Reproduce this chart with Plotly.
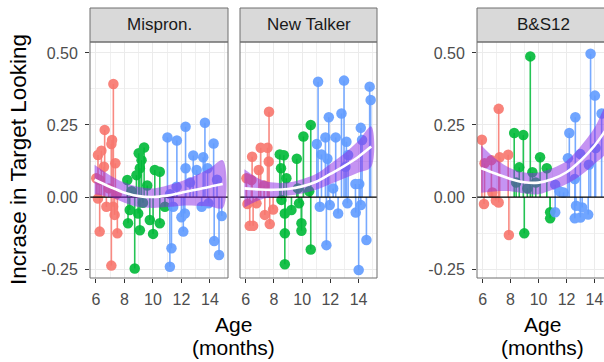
import plotly.graph_objects as go

W, H = 604, 362

panel_names = ["Mispron.", "New Talker", "B&S12"]
group_colors = ["#F8766D", "#00BA38", "#619CFF"]

# ---- Mispron. ----
mis_red_age = [7.22, 6.61, 7.13, 7.08, 6.38, 6.14, 7.36, 6.56, 6.02, 6.26, 6.14, 6.73, 7.20, 7.31, 6.26, 7.50, 7.08, 6.90, 7.45]
mis_red_val = [0.392, 0.233, 0.198, 0.184, 0.161, 0.146, 0.117, 0.105, 0.065, 0.059, -0.005, -0.034, -0.034, -0.062, -0.120, -0.126, -0.238, 0.030, 0.010]
mis_green_age = [9.38, 9.00, 9.20, 9.08, 8.84, 10.13, 10.48, 8.20, 8.50, 9.60, 8.37, 8.96, 8.25, 9.78, 10.48, 9.08, 10.01, 8.72, 10.84, 9.30]
mis_green_val = [0.172, 0.152, 0.128, 0.100, 0.076, 0.094, 0.088, 0.059, 0.020, 0.040, -0.045, -0.057, -0.091, -0.080, -0.091, -0.115, -0.128, -0.248, -0.034, -0.020]
mis_blue_age = [11.02, 11.68, 12.29, 13.65, 14.26, 12.83, 13.53, 12.29, 13.07, 13.84, 11.66, 11.20, 11.42, 12.24, 12.00, 13.42, 13.90, 14.83, 12.13, 11.30, 14.30, 14.64, 11.19, 12.60, 14.50]
mis_blue_val = [0.207, 0.196, 0.244, 0.258, 0.186, 0.144, 0.138, 0.100, 0.094, 0.100, 0.036, 0.010, -0.034, -0.057, -0.070, -0.034, -0.022, -0.066, -0.120, -0.178, -0.153, -0.201, -0.242, 0.050, 0.060]

# ---- New Talker ----
nt_red_age = [7.65, 6.45, 7.06, 7.54, 6.92, 7.63, 6.05, 6.40, 6.12, 6.76, 7.35, 7.94, 6.28, 6.52, 7.70, 7.30]
nt_red_val = [0.296, 0.140, 0.171, 0.171, 0.094, 0.123, 0.065, 0.059, -0.024, -0.022, -0.062, -0.043, -0.100, -0.100, -0.094, 0.040]
nt_green_age = [10.61, 10.09, 8.41, 8.70, 9.62, 8.88, 8.50, 8.53, 8.77, 9.24, 9.78, 9.95, 9.95, 8.77, 10.61, 8.77, 10.50, 9.70]
nt_green_val = [0.250, 0.210, 0.148, 0.145, 0.133, 0.065, 0.100, -0.010, -0.057, -0.045, -0.022, -0.091, -0.117, -0.126, -0.182, -0.233, 0.020, 0.030]
nt_blue_age = [11.13, 12.97, 14.79, 14.86, 12.79, 11.89, 11.65, 12.38, 11.04, 13.14, 14.16, 14.25, 11.37, 11.79, 13.26, 13.07, 13.78, 14.05, 11.25, 11.96, 12.55, 13.21, 13.80, 14.16, 11.72, 14.56, 14.01, 12.20]
nt_blue_val = [0.400, 0.404, 0.383, 0.337, 0.290, 0.277, 0.207, 0.207, 0.184, 0.192, 0.240, 0.198, 0.148, 0.133, 0.146, 0.105, 0.045, 0.045, -0.034, -0.028, -0.057, -0.022, -0.054, -0.028, -0.167, -0.149, -0.253, 0.030]

# ---- B&S12 ----
bs_red_age = [5.95, 7.15, 7.83, 7.22, 6.63, 6.14, 6.70, 6.10, 7.15, 6.95, 7.88]
bs_red_val = [0.199, 0.306, 0.147, 0.138, 0.128, 0.117, 0.016, -0.024, -0.019, -0.012, -0.132]
bs_green_age = [9.41, 8.26, 8.91, 10.11, 8.62, 10.59, 9.56, 9.20, 9.80, 10.83, 10.83, 8.98, 8.40]
bs_green_val = [0.488, 0.222, 0.215, 0.138, 0.103, 0.100, 0.086, 0.030, 0.050, -0.053, -0.074, -0.126, 0.050]
bs_blue_age = [13.72, 14.03, 12.63, 12.20, 14.51, 12.10, 12.99, 13.60, 14.08, 12.59, 11.19, 11.79, 11.19, 12.68, 13.12, 12.59, 12.99, 13.55, 11.50]
bs_blue_val = [0.497, 0.352, 0.277, 0.222, 0.290, 0.135, 0.149, 0.112, 0.170, 0.0625, 0.043, 0.016, -0.053, -0.030, -0.036, -0.074, -0.071, -0.061, 0.020]

# ---- smooth fits ----
fit_age = [5.9, 7, 8, 9, 10, 11, 12, 13, 14, 14.9]
mis_fit = [0.060, 0.035, 0.015, 0.003, 0.000, 0.005, 0.015, 0.025, 0.036, 0.045]
mis_lo = [0.010, 0.000, -0.020, -0.035, -0.038, -0.035, -0.030, -0.030, -0.033, -0.038]
mis_hi = [0.112, 0.075, 0.050, 0.035, 0.030, 0.040, 0.055, 0.075, 0.100, 0.128]
nt_fit = [0.030, 0.026, 0.025, 0.028, 0.037, 0.053, 0.080, 0.108, 0.140, 0.175]
nt_lo = [-0.036, -0.010, 0.000, 0.005, 0.012, 0.025, 0.045, 0.065, 0.085, 0.105]
nt_hi = [0.096, 0.062, 0.050, 0.051, 0.062, 0.081, 0.115, 0.151, 0.195, 0.245]
bs_fit = [0.100, 0.080, 0.0625, 0.051, 0.050, 0.0625, 0.086, 0.126, 0.178, 0.240]
bs_lo = [0.015, 0.020, 0.020, 0.012, 0.010, 0.025, 0.045, 0.075, 0.115, 0.160]
bs_hi = [0.180, 0.130, 0.100, 0.085, 0.085, 0.100, 0.125, 0.175, 0.240, 0.320]

x_ticks = [6, 8, 10, 12, 14]
y_ticks = [-0.25, 0.0, 0.25, 0.5]
y_tick_text = ["-0.25", "0.00", "0.25", "0.50"]

panels = [
    dict(groups=[(mis_red_age, mis_red_val), (mis_green_age, mis_green_val), (mis_blue_age, mis_blue_val)],
         fit=mis_fit, lo=mis_lo, hi=mis_hi),
    dict(groups=[(nt_red_age, nt_red_val), (nt_green_age, nt_green_val), (nt_blue_age, nt_blue_val)],
         fit=nt_fit, lo=nt_lo, hi=nt_hi),
    dict(groups=[(bs_red_age, bs_red_val), (bs_green_age, bs_green_val), (bs_blue_age, bs_blue_val)],
         fit=bs_fit, lo=bs_lo, hi=bs_hi),
]

# layout geometry (pixels)
panel_px = [(90, 228), (240, 377), (477, 614)]
x_ranges = [[5.58, 15.27], [5.59, 15.31], [5.60, 14.68]]
y_top, y_bot = 42, 278
strip_top = 8
y_range = [-0.281, 0.538]

FONT = "Liberation Sans, Arial, sans-serif"

def fx(p):
    return p / W

def fy(p):
    return 1 - p / H

fig = go.Figure()

for i, pan in enumerate(panels):
    xa = "x" if i == 0 else f"x{i+1}"
    ya = "y" if i == 0 else f"y{i+1}"
    # stems
    for (ages, vals), col in zip(pan["groups"], group_colors):
        sx, sy = [], []
        for a, v in zip(ages, vals):
            sx += [a, a, None]
            sy += [0, v, None]
        fig.add_trace(go.Scatter(x=sx, y=sy, mode="lines", xaxis=xa, yaxis=ya,
                                 line=dict(color=col, width=1.6), opacity=0.85,
                                 hoverinfo="skip"))
    # points
    for (ages, vals), col in zip(pan["groups"], group_colors):
        fig.add_trace(go.Scatter(x=ages, y=vals, mode="markers", xaxis=xa, yaxis=ya,
                                 marker=dict(color=col, size=10.5, line=dict(width=0)),
                                 opacity=0.9))
    # zero line
    xr = x_ranges[i]
    fig.add_trace(go.Scatter(x=[xr[0], xr[1] + 1], y=[0, 0], mode="lines", xaxis=xa, yaxis=ya,
                             line=dict(color="black", width=1.3), hoverinfo="skip"))
    # ribbon
    fig.add_trace(go.Scatter(x=fit_age + fit_age[::-1], y=pan["hi"] + pan["lo"][::-1],
                             mode="lines", fill="toself", fillcolor="rgba(140,40,230,0.5)",
                             line=dict(width=0, shape="spline"), xaxis=xa, yaxis=ya,
                             hoverinfo="skip"))
    # fit
    fig.add_trace(go.Scatter(x=fit_age, y=pan["fit"], mode="lines", xaxis=xa, yaxis=ya,
                             line=dict(color="white", width=2.6, shape="spline"),
                             hoverinfo="skip"))

axis_common = dict(showgrid=True, gridcolor="#EBEBEB", gridwidth=1.1, zeroline=False,
                   showline=False, ticks="outside", ticklen=4, tickwidth=1.1,
                   tickcolor="#333333", tickfont=dict(family=FONT, size=16, color="#4D4D4D"))

layout = dict(width=W, height=H, margin=dict(l=0, r=0, t=0, b=0),
              plot_bgcolor="white", paper_bgcolor="white", showlegend=False,
              font=dict(family=FONT))

for i in range(3):
    suf = "" if i == 0 else str(i + 1)
    x0, x1 = panel_px[i]
    layout["xaxis" + suf] = dict(axis_common, domain=[fx(x0), min(1.0, fx(x1))], range=x_ranges[i],
                                 tickmode="array", tickvals=x_ticks,
                                 minor=dict(tickvals=[7, 9, 11, 13, 15], showgrid=True,
                                            gridcolor="#F0F0F0", gridwidth=0.7, ticks=""),
                                 anchor="y" + suf, ticklabelstandoff=3)
    ydict = dict(axis_common, domain=[fy(y_bot), fy(y_top)], range=y_range,
                 tickmode="array", tickvals=y_ticks, ticktext=y_tick_text,
                 minor=dict(tickvals=[-0.125, 0.125, 0.375], showgrid=True,
                            gridcolor="#F0F0F0", gridwidth=0.7, ticks=""),
                 anchor="x" + suf, ticklabelstandoff=4)
    if i == 1:
        ydict["showticklabels"] = False
        ydict["ticks"] = ""
    layout["yaxis" + suf] = ydict

shapes = []
annotations = []
strip_centers = [159, 308.5, 543]
for i in range(3):
    x0, x1 = panel_px[i]
    shapes.append(dict(type="rect", xref="paper", yref="paper", x0=fx(x0), x1=fx(x1),
                       y0=fy(y_top), y1=fy(strip_top), fillcolor="#D9D9D9",
                       line=dict(color="#6E6E6E", width=1), layer="above"))
    shapes.append(dict(type="rect", xref="paper", yref="paper", x0=fx(x0), x1=fx(x1),
                       y0=fy(y_bot), y1=fy(y_top), fillcolor="rgba(0,0,0,0)",
                       line=dict(color="#6E6E6E", width=1), layer="above"))
    annotations.append(dict(text=panel_names[i], xref="paper", yref="paper",
                            x=fx(strip_centers[i]), y=fy((strip_top + y_top) / 2),
                            showarrow=False, xanchor="center", yanchor="middle",
                            font=dict(family=FONT, size=17, color="#1A1A1A")))

annotations.append(dict(text="Incrase in Target Looking", xref="paper", yref="paper",
                        x=fx(18), y=fy(160), textangle=-90, showarrow=False,
                        xanchor="center", yanchor="middle",
                        font=dict(family=FONT, size=22.5, color="black")))
for cx in [233, 542]:
    annotations.append(dict(text="Age", xref="paper", yref="paper", x=fx(cx), y=fy(324),
                            showarrow=False, xanchor="center", yanchor="middle",
                            font=dict(family=FONT, size=21, color="black")))
    annotations.append(dict(text="(months)", xref="paper", yref="paper", x=fx(cx), y=fy(347),
                            showarrow=False, xanchor="center", yanchor="middle",
                            font=dict(family=FONT, size=21, color="black")))

layout["shapes"] = shapes
layout["annotations"] = annotations
fig.update_layout(**layout)

fig.write_html("out.html", config={"displayModeBar": False},
               post_script="document.body.style.margin='0';document.body.style.overflow='hidden';")
